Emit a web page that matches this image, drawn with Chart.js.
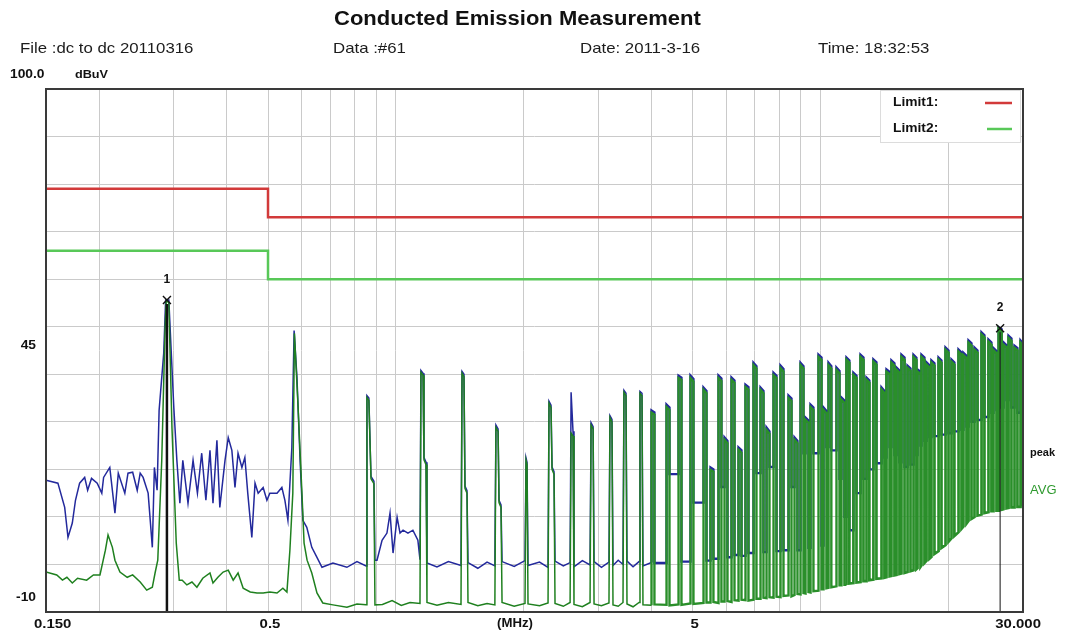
<!DOCTYPE html>
<html>
<head>
<meta charset="utf-8">
<title>Conducted Emission Measurement</title>
<script src="https://cdn.jsdelivr.net/npm/chart.js@4/dist/chart.umd.min.js"></script>
<style>
  body { margin: 0; background: #fff; overflow: hidden; font-family: "Liberation Sans", Arial, sans-serif; }
  #wrap { position: relative; width: 1067px; height: 637px; }
  #emi { position: absolute; left: 0; top: 0; }
  .txt { position: absolute; white-space: nowrap; color: #1c1c1c; transform-origin: 0 0; }
  #title { left: 334px; top: 7px; font-size: 20px; font-weight: bold; color: #111; transform: scaleX(1.1); }
  .hdr { top: 39px; font-size: 15px; transform: scaleX(1.12); }
</style>
</head>
<body>
<div id="wrap">
  <canvas id="emi" width="1067" height="637"></canvas>
  <div id="title" class="txt">Conducted Emission Measurement</div>
  <div class="txt hdr" style="left:20px">File :dc to dc 20110316</div>
  <div class="txt hdr" style="left:333px">Data :#61</div>
  <div class="txt hdr" style="left:580px">Date: 2011-3-16</div>
  <div class="txt hdr" style="left:818px">Time: 18:32:53</div>
</div>
<script>
// limit lines (CISPR class A, QP and AV)
const limit1Freq = [0.15, 0.5, 0.5, 30];
const limit1Level = [79, 79, 73, 73];
const limit2Freq = [0.15, 0.5, 0.5, 30];
const limit2Level = [66, 66, 60, 60];

// AVG detector trace, MHz / dBuV
const avgFreq = [
  0.150, 0.159, 0.164, 0.168, 0.173, 0.178, 0.187, 0.194,
  0.201, 0.207, 0.210, 0.215, 0.218, 0.224, 0.233, 0.240,
  0.250, 0.259, 0.267, 0.271, 0.275, 0.281, 0.286, 0.288,
  0.292, 0.297, 0.304, 0.309, 0.314, 0.322, 0.331, 0.340,
  0.351, 0.365, 0.371, 0.381, 0.392, 0.403, 0.414, 0.425,
  0.437, 0.454, 0.471, 0.487, 0.505, 0.525, 0.542, 0.554,
  0.563, 0.572, 0.577, 0.588, 0.601, 0.608, 0.618, 0.634,
  0.652, 0.673, 0.711, 0.767, 0.810, 0.851, 0.855, 0.864,
  0.874, 0.888, 0.893, 0.930, 0.980, 1.030, 1.080, 1.140,
  1.146, 1.159, 1.165, 1.178, 1.184, 1.250, 1.330, 1.424,
  1.432, 1.447, 1.455, 1.471, 1.479, 1.560, 1.640, 1.711,
  1.721, 1.741, 1.750, 1.769, 1.779, 1.900, 2.015, 2.026,
  2.037, 2.048, 2.180, 2.283, 2.295, 2.320, 2.333, 2.358,
  2.371, 2.480, 2.573, 2.587, 2.614, 2.628, 2.750, 2.867,
  2.883, 2.915, 2.930, 3.050, 3.177, 3.194, 3.229, 3.247,
  3.340, 3.428, 3.446, 3.484, 3.503, 3.620, 3.740, 3.759,
  3.800, 3.820,
  4.001, 4.001, 4.065, 4.065,
  4.341, 4.341, 4.411, 4.411,
  4.633, 4.633, 4.707, 4.707,
  4.943, 4.943, 5.023, 5.023,
  5.305, 5.305, 5.391, 5.391,
  5.510, 5.510, 5.598, 5.598,
  5.754, 5.754, 5.846, 5.846,
  5.945, 5.945, 6.041, 6.041,
  6.175, 6.175, 6.275, 6.275,
  6.414, 6.414, 6.518, 6.518,
  6.661, 6.661, 6.769, 6.769,
  6.957, 6.957, 7.069, 7.069,
  7.227, 7.227, 7.343, 7.343,
  7.466, 7.466, 7.586, 7.586,
  7.755, 7.755, 7.881, 7.881,
  8.055, 8.055, 8.185, 8.185,
  8.412, 8.412, 8.548, 8.548,
  8.690, 8.690, 8.830, 8.830,
  8.978, 8.978, 9.122, 9.122,
  9.224, 9.224, 9.372, 9.372,
  9.477, 9.477, 9.629, 9.629,
  9.897, 9.897, 10.06, 10.06,
  10.17, 10.17, 10.33, 10.33,
  10.45, 10.45, 10.61, 10.61,
  10.91, 10.91, 11.09, 11.09,
  11.21, 11.21, 11.39, 11.39,
  11.52, 11.52, 11.70, 11.70,
  11.96, 11.96, 12.16, 12.16,
  12.43, 12.43, 12.63, 12.63,
  12.84, 12.84, 13.04, 13.04,
  13.33, 13.33, 13.55, 13.55,
  13.93, 13.93, 14.15, 14.15,
  14.31, 14.31, 14.55, 14.55,
  14.70, 14.70, 14.94, 14.94,
  15.11, 15.11, 15.35, 15.35,
  15.52, 15.52, 15.78, 15.78,
  16.04, 16.04, 16.30, 16.30,
  16.57, 16.57, 16.83, 16.83,
  16.93, 16.93, 17.21, 17.21,
  17.30, 17.30, 17.58, 17.58,
  17.78, 17.78, 18.06, 18.06,
  18.26, 18.26, 18.56, 18.56,
  18.98, 18.98, 19.28, 19.28,
  19.71, 19.71, 20.03, 20.03,
  20.36, 20.36, 20.68, 20.68,
  21.15, 21.15, 21.49, 21.49,
  21.72, 21.72, 22.08, 22.08,
  22.33, 22.33, 22.69, 22.69,
  23.06, 23.06, 23.44, 23.44,
  23.96, 23.96, 24.34, 24.34,
  24.88, 24.88, 25.28, 25.28,
  25.56, 25.56, 25.98, 25.98,
  26.29, 26.29, 26.71, 26.71,
  26.99, 26.99, 27.43, 27.43,
  27.74, 27.74, 28.18, 28.18,
  28.65, 28.65, 29.11, 29.11,
  29.60, 29.60, 30.00, 30.00
];
const avgLevel = [
  -1.6, -2.2, -3.3, -2.7, -3.9, -2.9, -3.3, -2.2,
  -2.2, 3.0, 6.2, 3.6, 0.9, -1.6, -2.7, -2.2,
  -3.7, -5.4, -4.8, -1.8, 0.9, 21.9, 49.2, 55.6,
  55.0, 28.8, 4.5, -3.3, -3.3, -4.3, -3.7, -4.8,
  -2.9, -1.8, -3.9, -2.7, -1.6, -1.2, -3.3, -1.8,
  -5.0, -5.8, -6.0, -6.0, -5.8, -6.0, -5.0, -5.8,
  3.0, 15.0, 48.6, 33.9, 15.0, 4.5, 0.9, -1.8,
  -6.0, -8.1, -8.5, -9.0, -8.3, -8.5, 35.1, 34.5,
  18.0, 17.0, -8.5, -8.4, -7.6, -8.6, -8.0, -8.2,
  40.4, 39.8, 22.0, 21.0, -8.0, -8.6, -8.0, -8.4,
  40.2, 39.5, 16.0, 15.0, -8.0, -8.7, -8.2, -8.5,
  28.8, 28.0, 13.0, 12.0, -8.0, -8.8, -8.2, 21.9,
  21.0, -8.3, -8.7, -8.1, 33.9, 33.0, 20.0, 19.0,
  -8.2, -8.8, -8.0, 27.6, 27.0, -8.4, -8.9, -8.0,
  29.3, 28.5, -8.3, -8.7, -8.1, 30.9, 30.0, -8.5,
  -8.8, -8.0, 36.2, 35.5, -8.3, -8.9, -8.0, 36.0,
  35.5, -8.5,
  -8.6, 31.9, 31.5, -8.4,
  -8.5, 33.1, 32.5, -8.6,
  -8.4, 39.2, 38.8, -8.5,
  -8.2, 39.2, 38.5, -8.3,
  -8.1, 36.7, 36.0, -8.0,
  -8.0, 19.9, 19.5, -7.9,
  -8.1, 39.2, 38.6, -7.8,
  -7.8, 26.2, 25.5, -7.7,
  -7.9, 38.8, 38.2, -7.5,
  -7.6, 24.1, 23.5, -7.4,
  -7.5, 37.3, 36.8, -7.6,
  -7.4, 41.9, 41.2, -7.2,
  -7.2, 36.7, 36.0, -7.0,
  -7.1, 28.3, 27.5, -6.9,
  -7.0, 39.8, 39.2, -6.8,
  -6.9, 41.3, 40.6, -6.6,
  -6.5, 35.0, 34.4, -6.7,
  -6.4, 26.2, 25.5, -6.2,
  -6.3, 41.9, 41.2, -6.0,
  -6.1, 30.4, 29.8, -5.8,
  -5.9, 33.1, 32.5, -5.6,
  -5.5, 43.6, 43.0, -5.2,
  -5.2, 32.5, 31.8, -5.0,
  -4.9, 41.9, 41.2, -4.8,
  -4.6, 40.9, 40.2, -4.4,
  -4.4, 34.6, 34.0, -4.3,
  -4.3, 43.0, 42.4, -4.0,
  -3.9, 39.8, 39.2, -3.8,
  -3.7, 43.6, 43.0, -3.5,
  -3.5, 38.8, 38.2, -3.3,
  -3.2, 42.6, 42.0, -3.0,
  -2.9, 36.7, 36.0, -2.8,
  -2.7, 40.5, 40.0, -2.5,
  -2.4, 42.4, 41.8, -2.3,
  -2.2, 40.9, 40.3, -2.0,
  -1.9, 43.6, 43.0, -1.8,
  -1.6, 41.3, 40.7, -1.4,
  -1.2, 43.6, 43.0, -1.0,
  -0.8, 40.5, 40.0, -0.5,
  -0.2, 43.6, 43.0, 0.3,
  0.8, 42.0, 41.4, 1.2,
  1.6, 42.4, 41.8, 2.2,
  2.8, 43.0, 42.4, 3.5,
  4.1, 45.1, 44.5, 4.8,
  5.5, 42.6, 42.0, 6.0,
  6.8, 44.7, 44.1, 7.5,
  8.0, 44.0, 43.4, 8.6,
  9.2, 46.6, 46.0, 9.6,
  10.0, 45.1, 44.5, 10.3,
  10.5, 48.3, 47.7, 10.8,
  11.0, 46.8, 46.2, 11.2,
  11.2, 45.0, 44.4, 11.3,
  11.3, 49.7, 49.0, 11.5,
  11.6, 46.2, 45.6, 11.8,
  11.9, 47.6, 47.0, 12.0,
  12.0, 45.5, 45.0, 12.1,
  12.1, 46.6, 46.0, 12.2
];

// peak detector trace, MHz / dBuV
const peakFreq = [
  0.150, 0.160, 0.166, 0.169, 0.173, 0.176, 0.180, 0.185,
  0.188, 0.192, 0.198, 0.203, 0.205, 0.212, 0.218, 0.222,
  0.230, 0.234, 0.240, 0.246, 0.250, 0.254, 0.261, 0.267,
  0.270, 0.274, 0.277, 0.284, 0.287, 0.292, 0.297, 0.300,
  0.305, 0.310, 0.315, 0.324, 0.333, 0.341, 0.349, 0.357,
  0.365, 0.371, 0.379, 0.385, 0.396, 0.403, 0.411, 0.418,
  0.425, 0.434, 0.441, 0.448, 0.458, 0.466, 0.474, 0.487,
  0.497, 0.505, 0.525, 0.539, 0.548, 0.557, 0.569, 0.576,
  0.585, 0.595, 0.604, 0.617, 0.634, 0.652, 0.670, 0.711,
  0.767, 0.810, 0.851, 0.855, 0.864, 0.874, 0.888, 0.893,
  0.903, 0.928, 0.953, 0.969, 0.985, 1.007, 1.023, 1.040,
  1.068, 1.097, 1.127, 1.140, 1.146, 1.159, 1.165, 1.178,
  1.184, 1.250, 1.330, 1.424, 1.432, 1.447, 1.455, 1.471,
  1.479, 1.560, 1.640, 1.711, 1.721, 1.741, 1.750, 1.769,
  1.779, 1.900, 2.015, 2.026, 2.037, 2.048, 2.180, 2.283,
  2.295, 2.320, 2.333, 2.358, 2.371, 2.480, 2.573, 2.587,
  2.614, 2.628, 2.750, 2.867, 2.883, 2.915, 2.930, 3.050,
  3.177, 3.194, 3.229, 3.247, 3.340, 3.428, 3.446, 3.484,
  3.503, 3.620, 3.740, 3.759, 3.800, 3.820,
  4.001, 4.001, 4.065, 4.065,
  4.341, 4.341, 4.411, 4.411,
  4.633, 4.633, 4.707, 4.707,
  4.943, 4.943, 5.023, 5.023,
  5.305, 5.305, 5.391, 5.391,
  5.510, 5.510, 5.598, 5.598,
  5.754, 5.754, 5.846, 5.846,
  5.945, 5.945, 6.041, 6.041,
  6.175, 6.175, 6.275, 6.275,
  6.414, 6.414, 6.518, 6.518,
  6.661, 6.661, 6.769, 6.769,
  6.957, 6.957, 7.069, 7.069,
  7.227, 7.227, 7.343, 7.343,
  7.466, 7.466, 7.586, 7.586,
  7.755, 7.755, 7.881, 7.881,
  8.055, 8.055, 8.185, 8.185,
  8.412, 8.412, 8.548, 8.548,
  8.690, 8.690, 8.830, 8.830,
  8.978, 8.978, 9.122, 9.122,
  9.224, 9.224, 9.372, 9.372,
  9.477, 9.477, 9.629, 9.629,
  9.897, 9.897, 10.06, 10.06,
  10.17, 10.17, 10.33, 10.33,
  10.45, 10.45, 10.61, 10.61,
  10.91, 10.91, 11.09, 11.09,
  11.21, 11.21, 11.39, 11.39,
  11.52, 11.52, 11.70, 11.70,
  11.96, 11.96, 12.16, 12.16,
  12.43, 12.43, 12.63, 12.63,
  12.84, 12.84, 13.04, 13.04,
  13.33, 13.33, 13.55, 13.55,
  13.93, 13.93, 14.15, 14.15,
  14.31, 14.31, 14.55, 14.55,
  14.70, 14.70, 14.94, 14.94,
  15.11, 15.11, 15.35, 15.35,
  15.52, 15.52, 15.78, 15.78,
  16.04, 16.04, 16.30, 16.30,
  16.57, 16.57, 16.83, 16.83,
  16.93, 16.93, 17.21, 17.21,
  17.30, 17.30, 17.58, 17.58,
  17.78, 17.78, 18.06, 18.06,
  18.26, 18.26, 18.56, 18.56,
  18.98, 18.98, 19.28, 19.28,
  19.71, 19.71, 20.03, 20.03,
  20.36, 20.36, 20.68, 20.68,
  21.15, 21.15, 21.49, 21.49,
  21.72, 21.72, 22.08, 22.08,
  22.33, 22.33, 22.69, 22.69,
  23.06, 23.06, 23.44, 23.44,
  23.96, 23.96, 24.34, 24.34,
  24.88, 24.88, 25.28, 25.28,
  25.56, 25.56, 25.98, 25.98,
  26.29, 26.29, 26.71, 26.71,
  26.99, 26.99, 27.43, 27.43,
  27.74, 27.74, 28.18, 28.18,
  28.65, 28.65, 29.11, 29.11,
  29.60, 29.60, 30.00, 30.00
];
const peakLevel = [
  17.7, 17.1, 12.0, 5.7, 8.7, 13.5, 17.1, 18.3,
  15.6, 18.1, 17.1, 15.0, 18.3, 20.4, 10.8, 19.2,
  15.0, 19.2, 19.4, 15.6, 19.2, 18.3, 15.0, 3.6,
  20.4, 15.6, 32.4, 44.4, 55.6, 55.6, 41.4, 33.0,
  21.9, 12.9, 21.9, 12.9, 21.9, 15.0, 23.4, 13.5,
  24.0, 12.9, 26.1, 12.0, 21.9, 26.7, 24.0, 16.2,
  23.4, 20.4, 22.5, 15.0, 5.7, 17.1, 15.0, 16.2,
  13.5, 15.0, 15.0, 16.2, 13.5, 9.3, 24.6, 49.2,
  39.3, 21.9, 9.3, 7.8, 3.6, 1.5, -0.6, 0.3,
  -0.6, 0.6, -0.3, 35.5, 35.0, 18.5, 17.5, 0.9,
  0.9, 5.1, 6.6, 10.8, 2.4, 9.9, 6.6, 7.2,
  6.6, 7.2, 5.1, 1.0, 40.8, 40.2, 22.5, 21.5,
  0.3, -0.5, 0.6, -0.2, 40.6, 40.0, 16.5, 15.5,
  0.4, -0.8, 0.5, -0.3, 29.3, 28.5, 13.5, 12.5,
  0.6, -0.4, 0.8, 22.4, 21.5, -0.2, 0.5, -0.6,
  34.3, 33.5, 20.5, 19.5, 0.7, -0.3, 0.4, 36.2,
  28.0, -0.5, 0.8, -0.1, 29.8, 29.0, 0.6, -0.6,
  0.5, 31.3, 30.5, -0.2, 0.9, 0.0, 36.6, 36.0,
  0.7, -0.5, 0.6, 36.4, 36.0, -0.3,
  0.4, 32.4, 32.0, 0.3,
  0.3, 33.6, 33.0, 19.0,
  19.0, 39.7, 39.3, 0.6,
  0.6, 39.7, 39.0, 13.0,
  13.0, 37.2, 36.5, 0.8,
  0.8, 20.4, 20.0, 1.2,
  1.2, 39.7, 39.1, 16.3,
  16.3, 26.7, 26.0, 1.5,
  1.5, 39.3, 38.7, 2.0,
  2.0, 24.6, 24.0, 1.8,
  1.8, 37.8, 37.3, 2.4,
  2.4, 42.4, 41.7, 19.2,
  19.2, 37.2, 36.5, 2.6,
  2.6, 28.8, 28.0, 20.5,
  20.5, 40.3, 39.7, 2.8,
  2.8, 41.8, 41.1, 3.0,
  3.0, 35.5, 34.9, 16.3,
  16.3, 26.7, 26.0, 3.0,
  3.0, 42.4, 41.7, 23.4,
  23.4, 30.9, 30.3, 3.5,
  3.5, 33.6, 33.0, 23.4,
  23.4, 44.1, 43.5, 4.0,
  4.0, 33.0, 32.3, 24.7,
  24.7, 42.4, 41.7, 24.0,
  24.0, 41.4, 40.7, 18.0,
  18.0, 35.1, 34.5, 10.0,
  10.0, 43.5, 42.9, 7.2,
  7.2, 40.3, 39.7, 15.0,
  15.0, 44.1, 43.5, 18.0,
  18.0, 39.3, 38.7, 20.0,
  20.0, 43.1, 42.5, 21.3,
  21.3, 37.2, 36.5, 22.5,
  22.5, 41.0, 40.5, 24.7,
  24.7, 42.9, 42.3, 23.0,
  23.0, 41.4, 40.8, 21.5,
  21.5, 44.1, 43.5, 20.5,
  20.5, 41.8, 41.2, 21.0,
  21.0, 44.1, 43.5, 23.0,
  23.0, 41.0, 40.5, 25.0,
  25.0, 44.1, 43.5, 26.0,
  26.0, 42.5, 41.9, 26.8,
  26.8, 42.9, 42.3, 27.0,
  27.0, 43.5, 42.9, 27.3,
  27.3, 45.6, 45.0, 27.6,
  27.6, 43.1, 42.5, 28.0,
  28.0, 45.2, 44.6, 28.3,
  28.3, 44.5, 43.9, 29.0,
  29.0, 47.1, 46.5, 30.0,
  30.0, 45.6, 45.0, 30.4,
  30.4, 48.8, 48.2, 31.0,
  31.0, 47.3, 46.7, 31.9,
  31.9, 45.5, 44.9, 32.5,
  32.5, 49.9, 49.5, 33.0,
  33.0, 46.7, 46.1, 34.6,
  34.6, 48.1, 47.5, 33.0,
  33.0, 46.0, 45.5, 31.9,
  31.9, 47.1, 46.5, 31.5
];

// markers
const markerName = ['1', '2'];
const markerFreq = [0.289, 26.5];
const markerLevel = [55.6, 49.7];

// axes
const xGridMHz = [0.2, 0.3, 0.4, 0.5, 0.6, 0.7, 0.8, 0.9, 1, 2, 3, 4, 5, 6, 7, 8, 9, 10, 20];
const xTickMHz = [0.15, 0.5, 5, 30];
const xTickText = ['0.150', '0.5', '5', '30.000'];
const yTickDb = [100, 45, -10];
const yTickText = ['100.0', '45', '-10'];

const pts = (fs, ls) => fs.map((f, i) => ({ x: f, y: ls[i] }));

const FONT = '"Liberation Sans", Arial, sans-serif';

// above ~4 MHz the harmonics crowd together, draw them as solid bars
const DENSE_FROM = 3.9;
const CROWDED_FROM = 11.5;
const avgWidth = c => {
  const f = c.p0.parsed.x;
  if (f >= CROWDED_FROM) return 2.7;
  if (f >= DENSE_FROM) return 2.4;
  return undefined;
};

function drawText(ctx, text, x, y, font, align, color, sx) {
  ctx.save();
  ctx.translate(x, y);
  ctx.scale(sx || 1, 1);
  ctx.font = font;
  ctx.textAlign = align;
  ctx.textBaseline = 'middle';
  ctx.fillStyle = color;
  ctx.fillText(text, 0, 0);
  ctx.restore();
}

const decor = {
  id: 'decor',
  afterDraw(chart) {
    const { ctx, chartArea: a, scales: { x, y } } = chart;
    ctx.save();

    // marker lines, crosses and numbers
    markerFreq.forEach((f, i) => {
      const px = x.getPixelForValue(f);
      const py = y.getPixelForValue(markerLevel[i]);
      ctx.strokeStyle = '#111';
      ctx.lineWidth = i === 0 ? 2.5 : 1;
      ctx.beginPath();
      ctx.moveTo(px, py + 4);
      ctx.lineTo(px, a.bottom);
      ctx.stroke();
      ctx.lineWidth = 1.4;
      ctx.beginPath();
      ctx.moveTo(px - 4, py - 4); ctx.lineTo(px + 4, py + 4);
      ctx.moveTo(px + 4, py - 4); ctx.lineTo(px - 4, py + 4);
      ctx.stroke();
      drawText(ctx, markerName[i], px, py - 20, 'bold 12px ' + FONT, 'center', '#111');
    });

    // frame
    ctx.strokeStyle = '#3a3a3a';
    ctx.lineWidth = 2;
    ctx.strokeRect(a.left, a.top, a.right - a.left, a.bottom - a.top);

    // legend box
    ctx.fillStyle = '#fff';
    ctx.fillRect(880, a.top + 1, 141, 53);
    ctx.strokeStyle = '#dcdcdc';
    ctx.lineWidth = 1;
    ctx.strokeRect(880.5, a.top + 1.5, 140, 52);
    drawText(ctx, 'Limit1:', 893, a.top + 14, 'bold 12px ' + FONT, 'left', '#111', 1.15);
    drawText(ctx, 'Limit2:', 893, a.top + 40, 'bold 12px ' + FONT, 'left', '#111', 1.15);
    ctx.lineWidth = 2.5;
    ctx.strokeStyle = '#d23a3a';
    ctx.beginPath(); ctx.moveTo(985, a.top + 14); ctx.lineTo(1012, a.top + 14); ctx.stroke();
    ctx.strokeStyle = '#58c858';
    ctx.beginPath(); ctx.moveTo(987, a.top + 40); ctx.lineTo(1012, a.top + 40); ctx.stroke();

    // y labels
    yTickDb.forEach((v, i) => {
      const py = y.getPixelForValue(v) + (i === 1 ? -5 : -14);
      if (i === 0) drawText(ctx, yTickText[i], 10, py, 'bold 12px ' + FONT, 'left', '#111', 1.15);
      else drawText(ctx, yTickText[i], 36, py, 'bold 12px ' + FONT, 'right', '#111', 1.15);
    });
    drawText(ctx, 'dBuV', 75, y.getPixelForValue(100) - 14, 'bold 11px ' + FONT, 'left', '#111', 1.15);

    // x labels
    xTickMHz.forEach((v, i) => {
      const px = x.getPixelForValue(v);
      const last = i === xTickMHz.length - 1;
      const align = i === 0 ? 'left' : last ? 'right' : 'center';
      const ox = i === 0 ? -12 : last ? 18 : 2;
      drawText(ctx, xTickText[i], px + ox, a.bottom + 12, 'bold 13px ' + FONT, align, '#111', 1.15);
    });
    drawText(ctx, '(MHz)', a.left + (a.right - a.left) * 0.48, a.bottom + 12, 'bold 12px ' + FONT, 'center', '#111', 1.1);

    // trace names
    drawText(ctx, 'peak', 1030, 453, 'bold 11px ' + FONT, 'left', '#111');
    drawText(ctx, 'AVG', 1030, 490, '13px ' + FONT, 'left', '#2f9a2f');

    ctx.restore();
  }
};

const ctx = document.getElementById('emi').getContext('2d');
new Chart(ctx, {
  type: 'line',
  data: {
    datasets: [
      {
        label: 'AVG', data: pts(avgFreq, avgLevel), borderColor: '#1f801f', borderWidth: 1.5,
        segment: {
          borderWidth: avgWidth,
          borderColor: c => c.p0.parsed.x >= DENSE_FROM ? '#2a8f2a' : undefined
        }
      },
      {
        label: 'peak', data: pts(peakFreq, peakLevel), borderColor: '#23299c', borderWidth: 1.5,
        segment: { borderWidth: c => c.p0.parsed.x >= DENSE_FROM ? 2.4 : undefined }
      },
      { label: 'Limit1', data: pts(limit1Freq, limit1Level), borderColor: '#d23a3a', borderWidth: 2.5 },
      { label: 'Limit2', data: pts(limit2Freq, limit2Level), borderColor: '#58c858', borderWidth: 2.5 }
    ]
  },
  options: {
    responsive: false,
    animation: false,
    events: [],
    layout: { padding: { left: 46, top: 89, right: 44, bottom: 25 } },
    elements: { point: { radius: 0 }, line: { tension: 0, borderJoinStyle: 'miter' } },
    plugins: { legend: { display: false }, tooltip: { enabled: false }, title: { display: false } },
    scales: {
      x: {
        type: 'logarithmic',
        min: 0.15,
        max: 30,
        ticks: { display: false },
        grid: { color: '#cacaca', lineWidth: 1, drawTicks: false },
        border: { display: false },
        afterBuildTicks: (s) => { s.ticks = xGridMHz.map(v => ({ value: v })); }
      },
      y: {
        type: 'linear',
        min: -10,
        max: 100,
        ticks: { display: false, stepSize: 10 },
        grid: { color: '#cacaca', lineWidth: 1, drawTicks: false },
        border: { display: false }
      }
    }
  },
  plugins: [decor]
});
</script>
</body>
</html>
